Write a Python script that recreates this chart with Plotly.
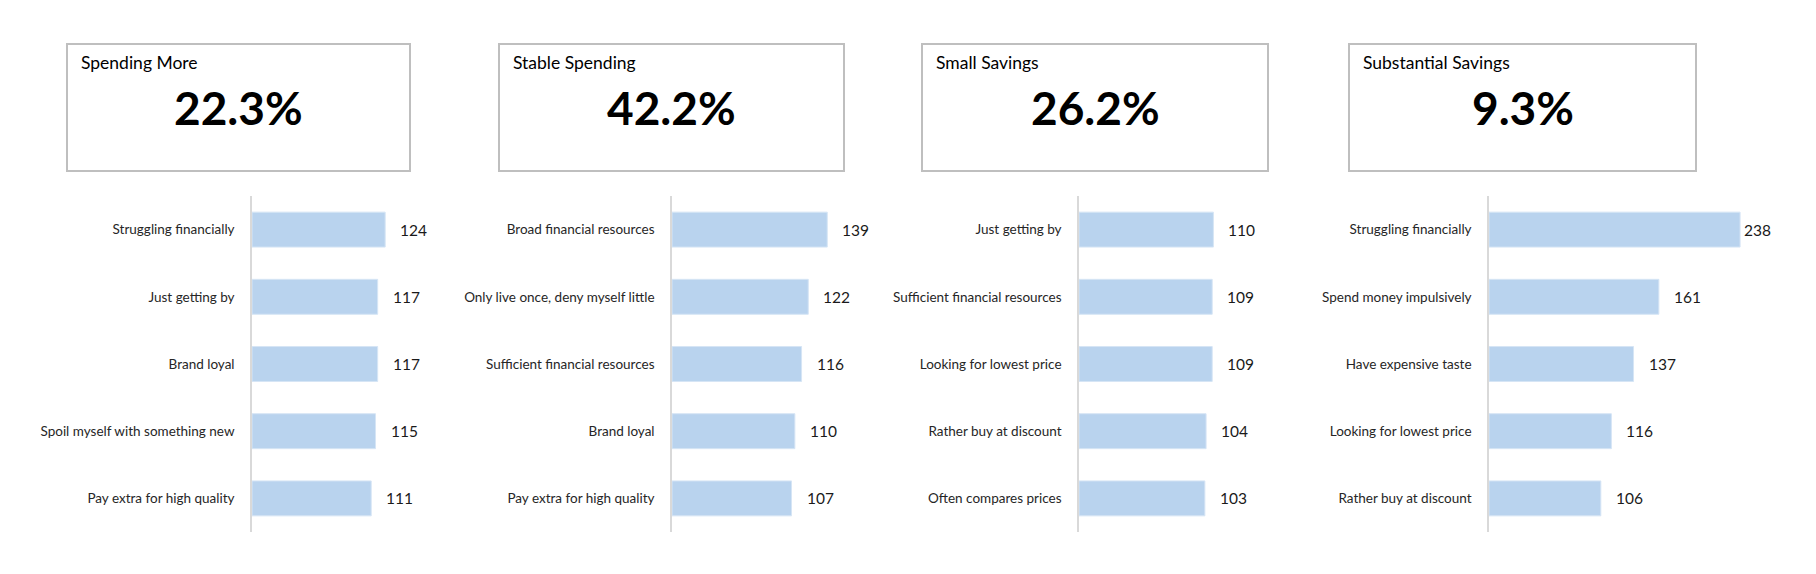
import plotly.graph_objects as go

W, H = 1816, 574

segments = ["Spending More", "Stable Spending", "Small Savings", "Substantial Savings"]
shares = ["22.3%", "42.2%", "26.2%", "9.3%"]

cats_1 = ["Struggling financially", "Just getting by", "Brand loyal",
          "Spoil myself with something new", "Pay extra for high quality"]
vals_1 = [124, 117, 117, 115, 111]

cats_2 = ["Broad financial resources", "Only live once, deny myself little",
          "Sufficient financial resources", "Brand loyal", "Pay extra for high quality"]
vals_2 = [139, 122, 116, 110, 107]

cats_3 = ["Just getting by", "Sufficient financial resources", "Looking for lowest price",
          "Rather buy at discount", "Often compares prices"]
vals_3 = [110, 109, 109, 104, 103]

cats_4 = ["Struggling financially", "Spend money impulsively", "Have expensive taste",
          "Looking for lowest price", "Rather buy at discount"]
vals_4 = [238, 161, 137, 116, 106]

panels = [(cats_1, vals_1), (cats_2, vals_2), (cats_3, vals_3), (cats_4, vals_4)]

# layout (pixels)
boxes_px = [(67, 410), (499, 844), (922, 1268), (1349, 1696)]
box_top, box_bot = 44, 171
axis_left_px = [252, 672, 1079, 1489]
axis_max = [150, 160, 130, 250]
px_per_unit = [1.074, 1.117, 1.222, 1.055]
plot_top, plot_bot = 196, 532

FONT = "Lato"
BAR = "#B9D3EE"

def px_x(p):
    return p / W

def px_y(p):
    return 1 - p / H

fig = go.Figure()
shapes = []
annotations = []

for i, (cats, vals) in enumerate(panels):
    n = "" if i == 0 else str(i + 1)
    fig.add_trace(go.Bar(
        x=vals, y=cats, orientation="h",
        marker=dict(color=BAR, line=dict(color="#D6E5F5", width=1)),
        xaxis="x" + n, yaxis="y" + n, showlegend=False, hoverinfo="x+y",
        width=0.52,
    ))
    left = axis_left_px[i]
    right = left + axis_max[i] * px_per_unit[i]
    fig.layout["xaxis" + n] = dict(
        domain=[px_x(left), px_x(right)], range=[0, axis_max[i]],
        showgrid=False, zeroline=False, showticklabels=False, showline=False,
        anchor="y" + n, fixedrange=True,
    )
    fig.layout["yaxis" + n] = dict(
        domain=[px_y(plot_bot), px_y(plot_top)], anchor="x" + n,
        categoryorder="array", categoryarray=cats[::-1],
        showgrid=False, zeroline=False, showline=True, linecolor="#D9D9D9", linewidth=1.5,
        ticks="", ticklabelstandoff=13, fixedrange=True,
        tickfont=dict(family=FONT, size=13.5, color="#262626"),
    )
    for c, v in zip(cats, vals):
        near_edge = v > 0.94 * axis_max[i]
        annotations.append(dict(
            x=v, y=c, xref="x" + n, yref="y" + n, text=str(v), showarrow=False,
            xanchor="left", yanchor="middle", xshift=2 if near_edge else 13,
            font=dict(family=FONT, size=15.5, color="#1a1a1a"),
        ))
    # KPI box
    bx0, bx1 = boxes_px[i]
    shapes.append(dict(
        type="rect", xref="paper", yref="paper",
        x0=px_x(bx0), x1=px_x(bx1), y0=px_y(box_bot), y1=px_y(box_top),
        line=dict(color="#BFBFBF", width=2), fillcolor="white", layer="below",
    ))
    annotations.append(dict(
        x=px_x(bx0 + 12), y=px_y(63), xref="paper", yref="paper",
        text=segments[i], showarrow=False, xanchor="left", yanchor="middle",
        font=dict(family=FONT, size=17.5, color="#000000"),
    ))
    annotations.append(dict(
        x=px_x((bx0 + bx1) / 2), y=px_y(107), xref="paper", yref="paper",
        text="<b>" + shares[i] + "</b>", showarrow=False, xanchor="center", yanchor="middle",
        font=dict(family=FONT, size=46, color="#000000"),
    ))

fig.update_layout(
    width=W, height=H,
    margin=dict(l=0, r=0, t=0, b=0),
    paper_bgcolor="white", plot_bgcolor="white",
    shapes=shapes, annotations=annotations,
    bargap=0.48,
)

fig.write_html("out.html", config={"displayModeBar": False},
               post_script="document.body.style.margin='0';")
